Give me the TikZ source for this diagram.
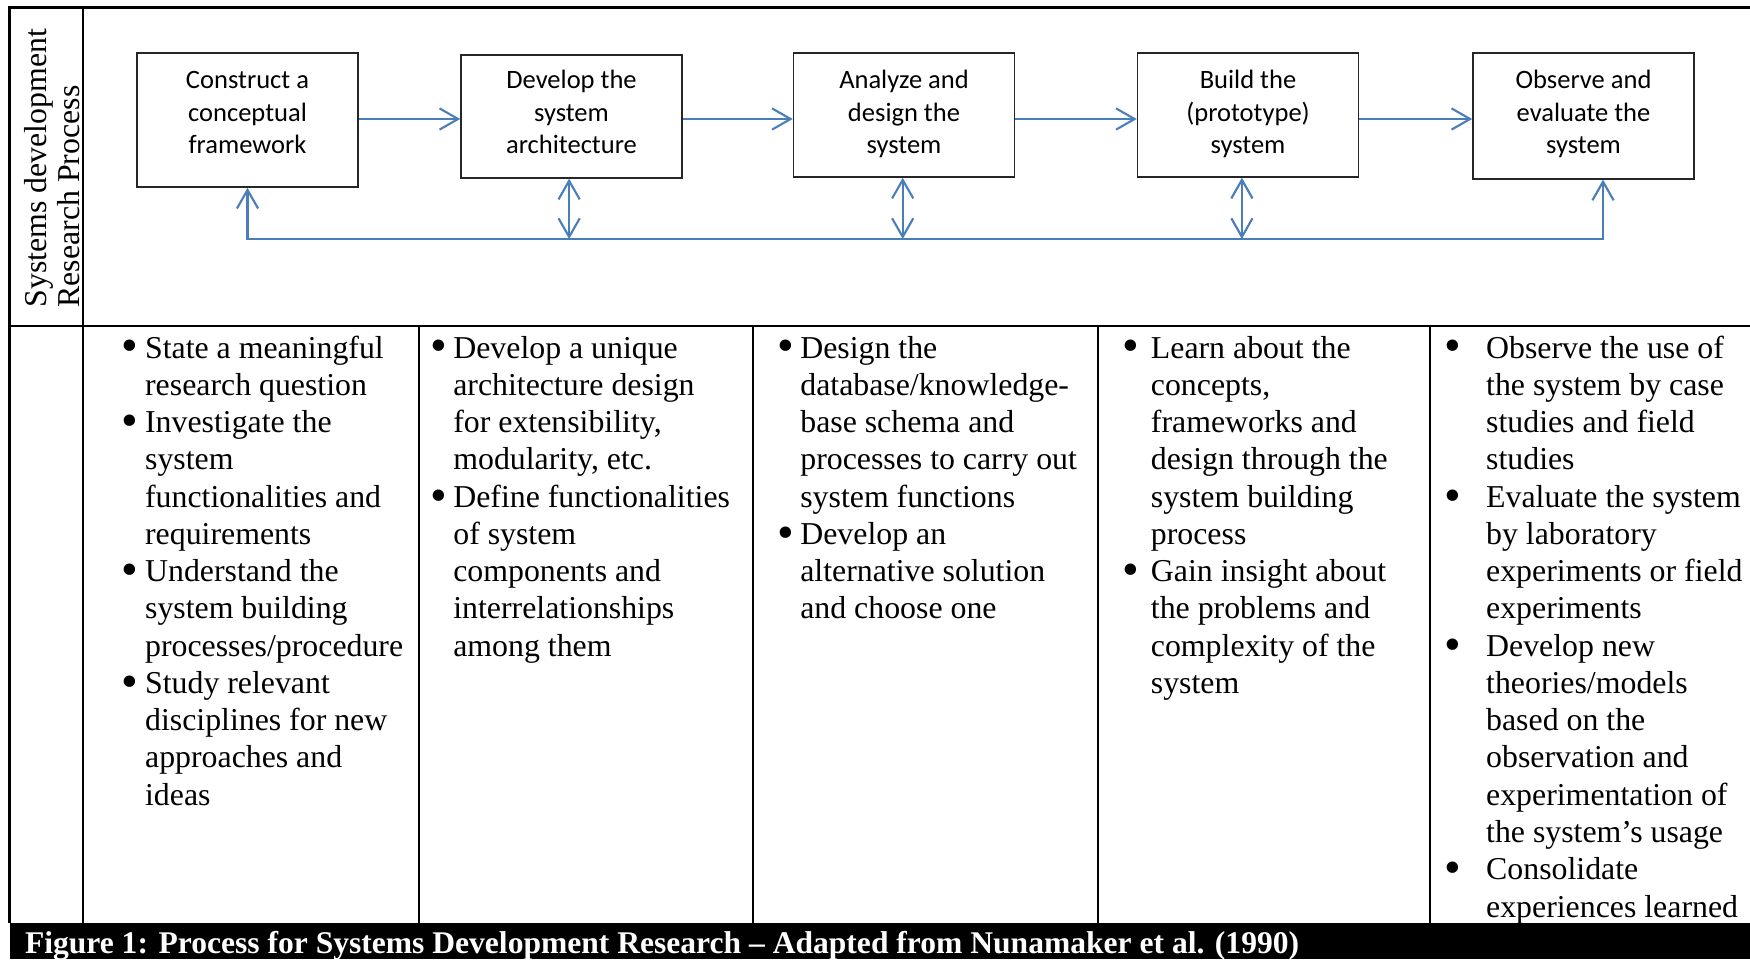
\documentclass[tikz,border=0pt]{standalone}
\usepackage{fontspec}
\setmainfont{Liberation Serif}
\newfontfamily\boxfont{Carlito}
\usetikzlibrary{arrows.meta}
\definecolor{linkblue}{HTML}{4A7EBB}

\newcommand{\bulletcol}[2]{\begin{tabular}[t]{@{}p{#1}@{}l@{}}#2\end{tabular}}
\newcommand{\stagetext}[1]{\begin{tabular}[t]{@{}c@{}}#1\end{tabular}}
\newcommand{\itm}{\raisebox{-1.5pt}{\scalebox{1.5}{\textbullet}}}

\begin{document}
\begin{tikzpicture}[x=0.377pt, y=-0.377pt,
    grid/.style={line width=0.9pt, black},
    stage/.style={draw=black!85, line width=0.6pt, anchor=north, minimum width=83.3pt,
        inner sep=0pt, text height=13.6pt, font=\boxfont\fontsize{10}{12.2}\selectfont},
    link/.style={linkblue, line width=0.8pt, >={Straight Barb[length=7pt, width=8pt]}},
    cell/.style={anchor=base west, inner sep=0pt, font=\fontsize{12}{14.05}\selectfont}]

    \useasboundingbox (0,0) rectangle (1750,959);

    % table frame
    \draw[grid] (1750,7.5) -- (9.6,7.5) -- (9.6,923);
    \draw[grid] (83,7.5) -- (83,923);
    \draw[grid] (9.6,326) -- (1750,326);
    \foreach \x in {419,753,1098,1430}
        \draw[grid] (\x,326) -- (\x,923);

    % side label
    \node[rotate=90, anchor=south west, align=left, inner sep=0pt,
        font=\fontsize{12}{12.3}\selectfont] (side) at (80,308)
        {Systems development\\Research Process};

    % stages
    \node[stage, text depth=37pt] (b1) at (247.5,52) {\stagetext{Construct a\\conceptual\\framework}};
    \node[stage, text height=12.8pt, text depth=33.6pt] (b2) at (571.5,54) {\stagetext{Develop the\\system\\architecture}};
    \node[stage, text depth=33.2pt] (b3) at (904,52) {\stagetext{Analyze and\\design the\\system}};
    \node[stage, text depth=33.2pt] (b4) at (1248,52) {\stagetext{Build the\\(prototype)\\system}};
    \node[stage, text depth=33.9pt] (b5) at (1583.5,52) {\stagetext{Observe and\\evaluate the\\system}};

    % flow
    \coordinate (row) at (0,119);
    \foreach \a/\b in {b1/b2, b2/b3, b3/b4, b4/b5}
        \draw[link, ->] (\a.east |- row) -- (\b.west |- row);

    % feedback loop
    \coordinate (loopL) at (247.5,239);
    \coordinate (loopR) at ([xshift=7.35pt]b5.south |- loopL);
    \draw[link, <->] (b1.south) -- (loopL) -- (loopR) -- (loopR |- b5.south);
    \foreach \n/\s in {b2/-0.9, b3/-0.5, b4/-2.3}
        \draw[link, <->] ([xshift=\s pt]\n.south) -- ([xshift=\s pt]\n.south |- loopL);

    % activities
    \node[cell] (c1) at (121,358) {\bulletcol{8.9pt}{%
        \itm & State a meaningful\\ & research question\\
        \itm & Investigate the\\ & system\\ & functionalities and\\ & requirements\\
        \itm & Understand the\\ & system building\\ & processes/procedure\\
        \itm & Study relevant\\ & disciplines for new\\ & approaches and\\ & ideas}};
    \node[cell] (c2) at (430,358) {\bulletcol{8.6pt}{%
        \itm & Develop a unique\\ & architecture design\\ & for extensibility,\\ & modularity, etc.\\
        \itm & Define functionalities\\ & of system\\ & components and\\ & interrelationships\\ & among them}};
    \node[cell] (c3) at (777,358) {\bulletcol{8.6pt}{%
        \itm & Design the\\ & database/knowledge-\\ & base schema and\\ & processes to carry out\\ & system functions\\
        \itm & Develop an\\ & alternative solution\\ & and choose one}};
    \node[cell] (c4) at (1122,358) {\bulletcol{10.7pt}{%
        \itm & Learn about the\\ & concepts,\\ & frameworks and\\ & design through the\\ & system building\\ & process\\
        \itm & Gain insight about\\ & the problems and\\ & complexity of the\\ & system}};
    \node[cell] (c5) at (1444,358) {\bulletcol{15.7pt}{%
        \itm & Observe the use of\\ & the system by case\\ & studies and field\\ & studies\\
        \itm & Evaluate the system\\ & by laboratory\\ & experiments or field\\ & experiments\\
        \itm & Develop new\\ & theories/models\\ & based on the\\ & observation and\\ & experimentation of\\ & the system’s usage\\
        \itm & Consolidate\\ & experiences learned}};

    % caption bar
    \fill (9.6,923) rectangle (1750,959);
    \node[anchor=base west, inner sep=0pt, text=white, font=\bfseries\fontsize{11.9}{14}\selectfont]
        (cap) at (24.5,953) {Figure 1: Process for Systems Development Research – Adapted from Nunamaker et al. (1990)};

\end{tikzpicture}
\end{document}
